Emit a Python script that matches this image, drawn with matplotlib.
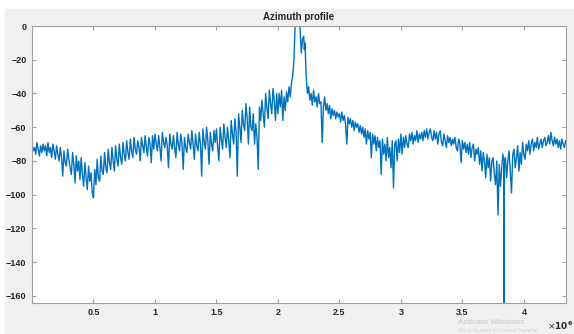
import numpy as np
import matplotlib.pyplot as plt
from matplotlib.patches import Rectangle

# azimuth profile, level in dB
# left side, samples every 0.01e6 from 0.00 to 1.99
y_left = [-70, -74, -72, -76, -69, -73, -77, -71, -75, -70,
          -74, -71, -77, -69, -75, -72, -78, -70, -74, -79,
          -71, -76, -80, -72, -78, -89, -74, -81, -83, -73,
          -79, -84, -88, -75, -82, -93, -77, -86, -80, -91,
          -78, -88, -95, -81, -90, -97, -83, -92, -87, -99,
          -102, -85, -94, -79, -90, -92, -77, -86, -88, -75,
          -84, -87, -73, -81, -85, -72, -80, -86, -71, -79,
          -83, -70, -78, -82, -69, -76, -80, -68, -75, -79,
          -67, -74, -78, -66, -73, -76, -68, -72, -80, -66,
          -71, -75, -65, -72, -77, -66, -70, -81, -65, -73,
          -64, -70, -74, -65, -72, -80, -63, -69, -72, -66,
          -71, -84, -64, -70, -73, -65, -72, -78, -63, -70,
          -74, -64, -70, -85, -66, -72, -75, -64, -69, -73,
          -62, -70, -79, -64, -71, -74, -63, -70, -89, -61,
          -69, -73, -60, -68, -82, -63, -70, -74, -62, -69,
          -61, -72, -80, -60, -67, -73, -58, -66, -72, -60,
          -68, -78, -56, -64, -70, -55, -63, -89, -52, -60,
          -69, -50, -58, -62, -46, -55, -70, -48, -60, -62,
          -52, -70, -58, -66, -85, -48, -56, -44, -52, -60,
          -40, -48, -55, -38, -46, -52, -37, -44, -56, -40]

# main lobe
x_peak = [2.00, 2.01, 2.02, 2.03, 2.04, 2.05, 2.06, 2.07, 2.08, 2.09,
          2.10, 2.11, 2.12, 2.13, 2.14, 2.15, 2.16, 2.17, 2.18, 2.19,
          2.20, 2.21, 2.215, 2.22, 2.23, 2.24]
y_peak = [-52, -40, -48, -38, -56, -42, -50, -39, -45, -36,
          -42, -34, -30, -20, 0, 0, 0, 0, -1, -16,
          -8, -6, -14, -10, -30, -40]

# right side, samples every 0.01e6 from 2.25 to 3.83
y_right = [-36, -44, -40, -47, -38, -45, -42, -48, -40, -46,
           -45, -69, -48, -42, -50, -46, -52, -47, -55, -49,
           -53, -50, -55, -51, -54, -52, -57, -51, -56, -53,
           -58, -70, -54, -58, -55, -60, -56, -62, -57, -60,
           -58, -63, -59, -64, -60, -66, -61, -70, -62, -67,
           -63, -78, -64, -70, -65, -74, -66, -72, -68, -88,
           -67, -76, -70, -80, -66, -78, -72, -84, -68, -96,
           -70, -68, -80, -67, -75, -64, -76, -66, -72, -65,
           -70, -72, -64, -68, -63, -70, -65, -68, -62, -69,
           -64, -67, -63, -68, -62, -66, -61, -67, -63, -61,
           -66, -68, -62, -67, -63, -70, -64, -62, -69, -71,
           -64, -68, -72, -65, -69, -66, -71, -67, -70, -66,
           -72, -74, -67, -70, -81, -68, -73, -69, -75, -70,
           -76, -69, -78, -72, -70, -80, -73, -76, -72, -82,
           -74, -86, -75, -80, -90, -76, -84, -78, -92, -80,
           -78, -88, -94, -80, -112, -82, -95, -84, -76]

# deep notch
x_notch = [3.838, 3.84, 3.842]
y_notch = [-80, -170, -82]

# tail, samples every 0.01e6 from 3.85 to 4.34
y_tail = [-78, -90, -80, -74, -86, -99, -76, -73, -84, -78,
          -71, -86, -75, -82, -69, -76, -79, -70, -74, -68,
          -76, -70, -67, -74, -69, -72, -66, -73, -70, -67,
          -72, -68, -66, -71, -69, -65, -70, -63, -68, -71,
          -66, -70, -67, -72, -68, -73, -67, -70, -72, -68]

x_left = np.round(0.00 + 0.01 * np.arange(len(y_left)), 3)
x_right = np.round(2.25 + 0.01 * np.arange(len(y_right)), 3)
x_tail = np.round(3.85 + 0.01 * np.arange(len(y_tail)), 3)

x = np.concatenate([x_left, x_peak, x_right, x_notch, x_tail])
y = np.concatenate([y_left, y_peak, y_right, y_notch, y_tail])

xticks = [0.5, 1, 1.5, 2, 2.5, 3, 3.5, 4]
xticklabels = ['0.5', '1', '1.5', '2', '2.5', '3', '3.5', '4']
yticks = [0, -20, -40, -60, -80, -100, -120, -140, -160]

plt.rcParams['font.family'] = ['Liberation Sans', 'DejaVu Sans']

fig = plt.figure(figsize=(5.74, 3.34), dpi=100, facecolor='white')
# grey window area (screenshot has a thin white strip top/left)
fig.patches.append(Rectangle((5 / 574, 0), 1, (334 - 9) / 334,
                             transform=fig.transFigure, color='#f0f0f0', zorder=-10))

ax = fig.add_axes([32 / 574, 1 - 302.7 / 334, (566 - 32) / 574, (302.7 - 26) / 334])
ax.set_facecolor('white')
ax.plot(x, y, color='#0072BD', linewidth=1.0)

ax.set_xlim(0, 4.343)
ax.set_ylim(-164, 0)
ax.set_xticks(xticks)
ax.set_xticklabels(xticklabels)
ax.set_yticks(yticks)
ax.tick_params(direction='in', top=True, right=True, length=3, width=0.6,
               colors='#8c8c8c', labelcolor='#262626', labelsize=6.5, pad=4)
for lab in ax.get_xticklabels() + ax.get_yticklabels():
    lab.set_fontweight('bold')
for s in ax.spines.values():
    s.set_color('#a0a0a0')
    s.set_linewidth(0.8)

ax.set_title('Azimuth profile', fontsize=7, fontweight='bold', color='#262626', pad=4)
fig.text(547 / 574, 1 - 326 / 334, r'$\times\mathbf{10^{6}}$', fontsize=6.5,
         color='#262626', ha='left', va='center')

# screenshot watermark
fig.text(458 / 574, 1 - 322 / 334, 'Activate Windows', fontsize=6,
         color='#c8c8c8', ha='left', va='center')
fig.text(458 / 574, 1 - 330.5 / 334, 'Go to System in Control Panel to',
         fontsize=4, color='#d0d0d0', ha='left', va='center', zorder=-1)

fig.savefig('out.png', dpi=100, facecolor=fig.get_facecolor())
